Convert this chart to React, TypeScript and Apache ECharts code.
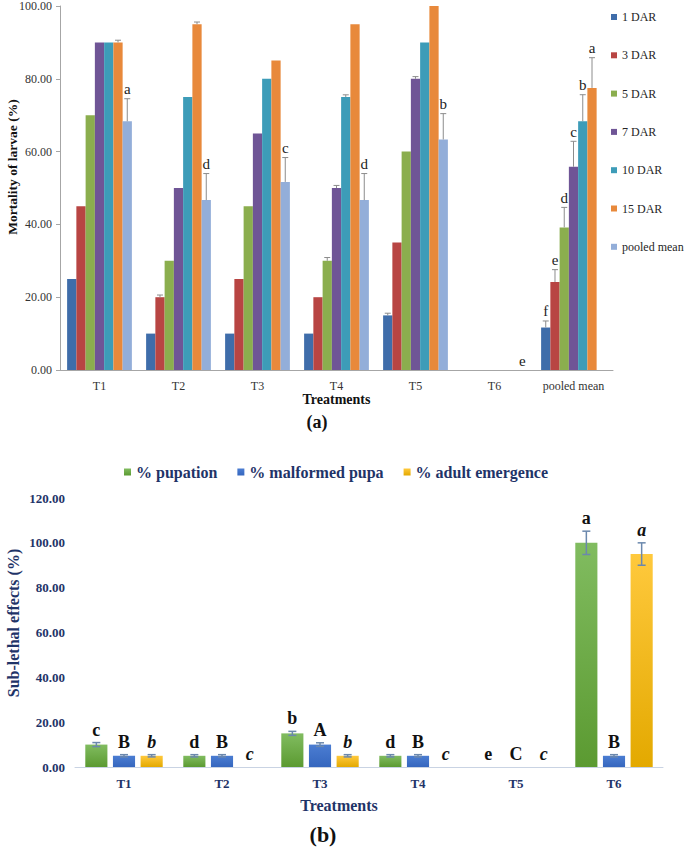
import React, { useEffect, useRef } from "react";
import * as echarts from "echarts";

// ---------- Chart (a) data ----------
const treatmentsA = ["T1", "T2", "T3", "T4", "T5", "T6", "pooled mean"];
const seriesNamesA = ["1 DAR", "3 DAR", "5 DAR", "7 DAR", "10 DAR", "15 DAR", "pooled mean"];
const dar1 = [25, 10, 10, 10, 15, 0, 11.67];
const dar3 = [45, 20, 25, 20, 35, 0, 24.17];
const dar5 = [70, 30, 45, 30, 60, 0, 39.17];
const dar7 = [90, 50, 65, 50, 80, 0, 55.83];
const dar10 = [90, 75, 80, 75, 90, 0, 68.33];
const dar15 = [90, 95, 85, 95, 100, 0, 77.5];
const pooledMean = [68.33, 46.67, 51.67, 46.67, 63.33, 0, null];
const err1 = [0, 0, 0, 0, 0.6, 0, 1.8];
const err3 = [0, 0.6, 0, 0, 0, 0, 3.4];
const err5 = [0, 0, 0, 0.9, 0, 0, 5.5];
const err7 = [0, 0, 0, 0.7, 0.6, 0, 7.0];
const err10 = [0, 0, 0, 0.6, 0, 0, 7.3];
const err15 = [0.6, 0.6, 0, 0, 0, 0, 8.3];
const errPooled = [6.2, 7.3, 6.7, 7.3, 7.1, 0, null];
const letters1 = ["", "", "", "", "", "", "f"];
const letters3 = ["", "", "", "", "", "", "e"];
const letters5 = ["", "", "", "", "", "", "d"];
const letters7 = ["", "", "", "", "", "", "c"];
const letters10 = ["", "", "", "", "", "", "b"];
const letters15 = ["", "", "", "", "", "", "a"];
const lettersPooled = ["a", "d", "c", "d", "b", "e", ""];
const colorsA = ["#3f6daa", "#b84543", "#8bae4e", "#6f5596", "#3d9cb8", "#e8893b", "#93aed9"];

// ---------- Chart (b) data ----------
const treatmentsB = ["T1", "T2", "T3", "T4", "T5", "T6"];
const seriesNamesB = ["% pupation", "% malformed pupa", "% adult emergence"];
const pupation = [10, 5, 15, 5, 0, 100];
const malformed = [5, 5, 10, 5, 0, 5];
const adultEmergence = [5, 0, 5, 0, 0, 95];
const errPupation = [0.9, 0.5, 0.9, 0.5, 0, 5.2];
const errMalformed = [0.5, 0.5, 0.8, 0.5, 0, 0.5];
const errAdult = [0.5, 0, 0.5, 0, 0, 5];
const lettersPupation = ["c", "d", "b", "d", "e", "a"];
const lettersMalformed = ["B", "B", "A", "B", "C", "B"];
const lettersAdult = ["b", "c", "b", "c", "c", "a"];

const SERIF = "Liberation Serif";
const NAVY = "#1f3468";

const valuesA = [dar1, dar3, dar5, dar7, dar10, dar15, pooledMean];
const errsA = [err1, err3, err5, err7, err10, err15, errPooled];
const lettersA = [letters1, letters3, letters5, letters7, letters10, letters15, lettersPooled];

const valuesB = [pupation, malformed, adultEmergence];
const errsB = [errPupation, errMalformed, errAdult];
const lettersB = [lettersPupation, lettersMalformed, lettersAdult];

const gradB = [
  ["#81bc60", "#5b9a31"],
  ["#4b7dd2", "#3566be"],
  ["#ffc93d", "#e3a900"],
];

export default function App() {
  const ref = useRef<HTMLDivElement>(null);
  useEffect(() => {
    document.body.style.margin = "0";
    const chart = echarts.init(ref.current!, undefined, { renderer: "svg" });

    const GAP_A = 0.18;
    const nA = seriesNamesA.length;
    const errItemsA: any[] = [];
    valuesA.forEach((vals, s) => {
      vals.forEach((v, c) => {
        if (v === null) return;
        errItemsA.push({ value: [c, v, errsA[s][c] ?? 0, s], letter: lettersA[s][c] });
      });
    });

    const GAP_B = 0.21;
    const BARGAP_B = 0.25;
    const nB = seriesNamesB.length;
    const errItemsB: any[] = [];
    valuesB.forEach((vals, s) => {
      vals.forEach((v, c) => {
        errItemsB.push({ value: [c, v, errsB[s][c], s], letter: lettersB[s][c] });
      });
    });

    const barSeriesA = seriesNamesA.map((name, s) => ({
      name,
      type: "bar",
      xAxisIndex: 0,
      yAxisIndex: 0,
      data: valuesA[s],
      barGap: "0%",
      barCategoryGap: "18%",
      itemStyle: { color: colorsA[s] },
    }));

    const barSeriesB = seriesNamesB.map((name, s) => ({
      name,
      type: "bar",
      xAxisIndex: 1,
      yAxisIndex: 1,
      data: valuesB[s],
      barGap: "25%",
      barCategoryGap: "21%",
      itemStyle: {
        color: new echarts.graphic.LinearGradient(0, 0, 0, 1, [
          { offset: 0, color: gradB[s][0] },
          { offset: 1, color: gradB[s][1] },
        ]),
      },
    }));

    const option: any = {
      animation: false,
      textStyle: { fontFamily: SERIF },
      legend: [
        {
          data: seriesNamesA,
          orient: "vertical",
          left: 606,
          top: 6,
          itemWidth: 6,
          itemHeight: 6,
          itemGap: 26.3,
          icon: "rect",
          textStyle: { fontFamily: SERIF, fontSize: 12, color: "#262626" },
        },
        {
          data: seriesNamesB,
          orient: "horizontal",
          left: 119,
          top: 459,
          itemWidth: 7,
          itemHeight: 7,
          itemGap: 20,
          icon: "rect",
          textStyle: { fontFamily: SERIF, fontSize: 16, fontWeight: "bold", color: NAVY },
        },
      ],
      grid: [
        { left: 60, right: 72, top: 5, bottom: 477 },
        { left: 75, right: 22, top: 498, bottom: 80 },
      ],
      xAxis: [
        {
          type: "category",
          gridIndex: 0,
          data: treatmentsA,
          name: "Treatments",
          nameLocation: "middle",
          nameGap: 17,
          nameTextStyle: { fontFamily: SERIF, fontSize: 14, fontWeight: "bold", color: "#111" },
          axisLine: { lineStyle: { color: "#a6a6a6" } },
          axisTick: { length: 4, lineStyle: { color: "#a6a6a6" } },
          axisLabel: { interval: 0, fontFamily: SERIF, fontSize: 12, color: "#333", margin: 10 },
        },
        {
          type: "category",
          gridIndex: 1,
          data: treatmentsB,
          axisLine: { lineStyle: { color: "#c9d3e3" } },
          axisTick: { length: 4, lineStyle: { color: "#c9d3e3" } },
          axisLabel: { interval: 0, fontFamily: SERIF, fontSize: 13, fontWeight: "bold", color: NAVY, margin: 10 },
        },
      ],
      yAxis: [
        {
          type: "value",
          gridIndex: 0,
          min: 0,
          max: 100,
          interval: 20,
          splitLine: { show: false },
          axisLine: { show: true, lineStyle: { color: "#a6a6a6" } },
          axisTick: { show: true, length: 4, lineStyle: { color: "#a6a6a6" } },
          axisLabel: {
            fontFamily: SERIF,
            fontSize: 12,
            color: "#333",
            margin: 8,
            formatter: (v: number) => v.toFixed(2),
          },
        },
        {
          type: "value",
          gridIndex: 1,
          min: 0,
          max: 120,
          interval: 20,
          splitLine: { show: false },
          axisLine: { show: false },
          axisTick: { show: false },
          axisLabel: {
            fontFamily: SERIF,
            fontSize: 13,
            fontWeight: "bold",
            color: NAVY,
            margin: 10,
            formatter: (v: number) => v.toFixed(2),
          },
        },
      ],
      series: [
        ...barSeriesA,
        ...barSeriesB,
        {
          type: "custom",
          xAxisIndex: 0,
          yAxisIndex: 0,
          clip: false,
          z: 5,
          encode: { x: 0, y: 1 },
          data: errItemsA,
          renderItem: (params: any, api: any) => {
            const c = api.value(0);
            const v = api.value(1);
            const e = api.value(2);
            const s = api.value(3);
            const letter = errItemsA[params.dataIndex].letter;
            const cw = api.size([1, 0])[0];
            const bw = (cw * (1 - GAP_A)) / nA;
            const center = api.coord([c, 0]);
            const x = center[0] - (cw * (1 - GAP_A)) / 2 + (s + 0.5) * bw;
            const yVal = api.coord([c, v])[1];
            const yTop = api.coord([c, v + e])[1];
            const children: any[] = [];
            if (e > 0) {
              children.push({
                type: "line",
                shape: { x1: x, y1: yVal, x2: x, y2: yTop },
                style: { stroke: "#8c8c8c", lineWidth: 1 },
              });
              children.push({
                type: "line",
                shape: { x1: x - 3, y1: yTop, x2: x + 3, y2: yTop },
                style: { stroke: "#8c8c8c", lineWidth: 1 },
              });
            }
            if (letter) {
              children.push({
                type: "text",
                x: x,
                y: yTop - 2,
                style: {
                  text: letter,
                  align: "center",
                  verticalAlign: "bottom",
                  fontFamily: SERIF,
                  fontSize: 15,
                  fill: "#222",
                },
              });
            }
            return { type: "group", children };
          },
        },
        {
          type: "custom",
          xAxisIndex: 1,
          yAxisIndex: 1,
          clip: false,
          z: 5,
          encode: { x: 0, y: 1 },
          data: errItemsB,
          renderItem: (params: any, api: any) => {
            const c = api.value(0);
            const v = api.value(1);
            const e = api.value(2);
            const s = api.value(3);
            const letter = errItemsB[params.dataIndex].letter;
            const cw = api.size([1, 0])[0];
            const total = cw * (1 - GAP_B);
            const bw = total / (nB + (nB - 1) * BARGAP_B);
            const center = api.coord([c, 0]);
            const x = center[0] - total / 2 + s * bw * (1 + BARGAP_B) + bw / 2;
            const yTop = api.coord([c, v + e])[1];
            const yBot = api.coord([c, Math.max(0, v - e)])[1];
            const children: any[] = [];
            if (e > 0) {
              children.push({
                type: "line",
                shape: { x1: x, y1: yBot, x2: x, y2: yTop },
                style: { stroke: "#6b88ad", lineWidth: 1.5 },
              });
              children.push({
                type: "line",
                shape: { x1: x - 4, y1: yTop, x2: x + 4, y2: yTop },
                style: { stroke: "#6b88ad", lineWidth: 1.5 },
              });
              children.push({
                type: "line",
                shape: { x1: x - 4, y1: yBot, x2: x + 4, y2: yBot },
                style: { stroke: "#6b88ad", lineWidth: 1.5 },
              });
            }
            if (letter) {
              children.push({
                type: "text",
                x: x,
                y: yTop - 4,
                style: {
                  text: letter,
                  align: "center",
                  verticalAlign: "bottom",
                  fontFamily: SERIF,
                  fontSize: 18,
                  fontWeight: "bold",
                  fontStyle: s === 2 ? "italic" : "normal",
                  fill: "#111",
                },
              });
            }
            return { type: "group", children };
          },
        },
      ],
      graphic: [
        {
          type: "text",
          x: 12,
          y: 167,
          rotation: Math.PI / 2,
          style: {
            text: "Mortality of larvae (%)",
            align: "center",
            verticalAlign: "middle",
            fontFamily: SERIF,
            fontSize: 13.5,
            fontWeight: "bold",
            fill: "#111",
          },
        },
        {
          type: "text",
          x: 13,
          y: 623,
          rotation: Math.PI / 2,
          style: {
            text: "Sub-lethal effects (%)",
            align: "center",
            verticalAlign: "middle",
            fontFamily: SERIF,
            fontSize: 16,
            fontWeight: "bold",
            fill: NAVY,
          },
        },
        {
          type: "text",
          x: 317,
          y: 422,
          style: {
            text: "(a)",
            align: "center",
            verticalAlign: "middle",
            fontFamily: SERIF,
            fontSize: 18,
            fontWeight: "bold",
            fill: "#111",
          },
        },
        {
          type: "text",
          x: 339,
          y: 805,
          style: {
            text: "Treatments",
            align: "center",
            verticalAlign: "middle",
            fontFamily: SERIF,
            fontSize: 16,
            fontWeight: "bold",
            fill: NAVY,
          },
        },
        {
          type: "text",
          x: 323,
          y: 834,
          style: {
            text: "(b)",
            align: "center",
            verticalAlign: "middle",
            fontFamily: SERIF,
            fontSize: 22,
            fontWeight: "bold",
            fill: "#111",
          },
        },
      ],
    };

    chart.setOption(option);
    return () => chart.dispose();
  }, []);

  return <div ref={ref} style={{ width: 685, height: 847 }} />;
}
